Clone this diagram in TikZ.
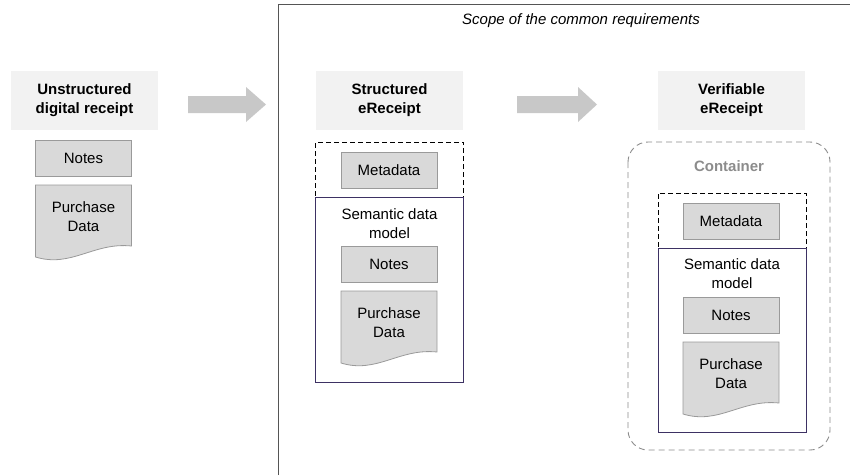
\documentclass[tikz,border=0pt]{standalone}
\usepackage{fontspec}
\setmainfont{Liberation Sans}
\definecolor{titlegray}{HTML}{F2F2F2}
\definecolor{boxgray}{HTML}{D9D9D9}
\definecolor{edgegray}{HTML}{9A9A9A}
\definecolor{arrowgray}{HTML}{C8C8C8}
\definecolor{modelblue}{HTML}{3D3163}
\definecolor{framegray}{HTML}{555555}
\definecolor{contgray}{HTML}{8C8C8C}
% document shape with a wavy bottom edge: x1, top, x2
\newcommand{\docpath}[3]{%
  \fill[boxgray, draw=edgegray, line width=0.8pt]
    (#1,#2) -- (#3,#2) -- (#3,#2+61)
    .. controls (#3-38,#2+57) and (#1+36,#2+83) .. (#1,#2+72) -- cycle;}
\begin{document}
\begin{tikzpicture}[x=1pt,y=-1pt,
  txt/.style={font=\fontsize{15}{19}\selectfont, align=center, inner sep=0},
  titlebox/.style={fill=titlegray, minimum width=147pt, minimum height=59pt,
    align=center, inner sep=0, font=\bfseries\fontsize{15}{19}\selectfont},
  itembox/.style={fill=boxgray, draw=edgegray, line width=0.8pt,
    minimum width=96pt, minimum height=36pt, inner sep=0,
    font=\fontsize{15}{19}\selectfont},
  metaframe/.style={draw=black, dash pattern=on 5pt off 3pt, line width=0.8pt,
    minimum width=148pt, minimum height=55pt, inner sep=0},
  modelframe/.style={draw=modelblue, line width=1pt, minimum width=148pt, inner sep=0},
  bigarrow/.style={fill=arrowgray},
]
\useasboundingbox (0,0) rectangle (850,475);

% scope frame (open to the right and bottom)
\draw[framegray, line width=1pt] (278,475) -- (278,4) -- (851,4);
\node[font=\itshape\fontsize{15}{18}\selectfont, inner sep=0] (scope) at (581,21) {Scope of the common requirements};

% --- unstructured receipt ---
\node[titlebox] (t1) at (84.5,100.5) {Unstructured\\digital receipt};
\node[itembox] (n1) at (83.5,158) {Notes};
\docpath{35.5}{185}{131.5}
\node[txt] (p1) at (83.5,217) {Purchase\\Data};

% block arrows
\fill[bigarrow] (188,96) -- (246,96) -- (246,87) -- (266,104.5) -- (246,122) -- (246,113) -- (188,113) -- cycle;
\fill[bigarrow] (517,96) -- (578,96) -- (578,87) -- (597,104.5) -- (578,122) -- (578,113) -- (517,113) -- cycle;

% --- structured eReceipt ---
\node[titlebox] (t2) at (389.5,100.5) {Structured\\eReceipt};
\node[metaframe] (mf2) at (389.5,169.5) {};
\node[itembox] (m2) at (389,170.5) {Metadata};
\node[modelframe, minimum height=185pt] (sm2) at (389.5,289.5) {};
\node[txt] (sl2) at (389.5,223.5) {Semantic data\\model};
\node[itembox] (n2) at (389,264) {Notes};
\docpath{341}{291}{437}
\node[txt] (p2) at (389,323) {Purchase\\Data};

% --- verifiable eReceipt ---
\node[titlebox] (t3) at (731.5,100.5) {Verifiable\\eReceipt};
\draw[contgray, dash pattern=on 6pt off 4pt, line width=0.9pt, rounded corners=20pt] (628,142) rectangle (830,450);
\node[font=\bfseries\fontsize{15}{19}\selectfont, text=contgray, inner sep=0] (cl) at (729,166) {Container};
\node[metaframe] (mf3) at (732,220.5) {};
\node[itembox] (m3) at (731,221) {Metadata};
\node[modelframe, minimum height=184pt] (sm3) at (732,340) {};
\node[txt] (sl3) at (732,273.5) {Semantic data\\model};
\node[itembox] (n3) at (731,315) {Notes};
\docpath{683}{342}{779}
\node[txt] (p3) at (731,374) {Purchase\\Data};
\end{tikzpicture}
\end{document}
